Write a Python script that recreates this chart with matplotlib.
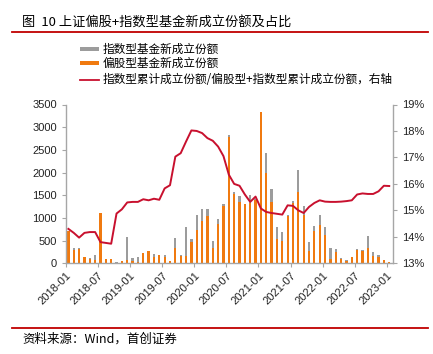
import numpy as np
import matplotlib
matplotlib.use('Agg')
import matplotlib.pyplot as plt
from matplotlib.patches import Rectangle
from matplotlib.lines import Line2D

plt.rcParams['font.family'] = ['Liberation Sans', 'Noto Sans CJK SC', 'DejaVu Sans']

# monthly data, 2018-01 .. 2023-01
tick_labels = ['2018-01', '2018-07', '2019-01', '2019-07', '2020-01', '2020-07',
               '2021-01', '2021-07', '2022-01', '2022-07', '2023-01']

# 偏股型基金新成立份额 (亿份)
equity = [720, 300, 326, 133, 104, 74, 1111, 96, 89, 10, 52, 74,
          52, 30, 222, 281, 148, 178, 133, 44, 348, 163, 170, 459,
          741, 941, 1037, 333, 870, 1259, 2778, 1518, 1350, 1300, 1325, 1400,
          3333, 2000, 1348, 533, 481, 1052, 1320, 1570, 1074, 281, 704, 837,
          615, 89, 259, 96, 59, 133, 296, 274, 333, 163, 148, 74,
          22]
# 指数型基金新成立份额 (亿份)
index_fund = [0, 33, 7, 7, 6, 111, 0, 4, 1, 20, 3, 504,
              74, 118, 8, 0, 52, 15, 60, 0, 208, 22, 623, 82,
              318, 259, 163, 163, 110, 52, 52, 44, 125, 11, 175, 20,
              7, 422, 300, 260, 208, 8, 50, 482, 185, 178, 111, 237,
              185, 259, 67, 15, 15, 15, 22, 22, 274, 81, 37, 0,
              0]
# 指数型累计成立份额/偏股型+指数型累计成立份额 (%)
ratio = [14.30, 14.15, 13.97, 14.15, 14.18, 14.18, 13.80, 13.77, 13.74, 14.88, 15.04, 15.30,
         15.32, 15.32, 15.42, 15.38, 15.44, 15.40, 15.83, 15.95, 17.03, 17.16, 17.60, 18.02,
         18.00, 17.92, 17.73, 17.63, 17.41, 17.05, 16.35, 16.00, 15.93, 15.60, 15.32, 15.52,
         15.07, 14.94, 14.90, 14.87, 14.84, 15.19, 15.17, 15.00, 14.90, 15.13, 15.28, 15.38,
         15.33, 15.32, 15.32, 15.33, 15.35, 15.38, 15.60, 15.64, 15.62, 15.62, 15.72, 15.93,
         15.92]

orange = '#F07A10'
gray = '#9C9C9C'
red = '#C8102E'
axis_gray = '#A6A6A6'
cjk = ['Noto Sans CJK SC', 'DejaVu Sans']

x = np.arange(len(equity)) + 0.45

fig = plt.figure(figsize=(4.33, 3.54), dpi=100)
ax = fig.add_axes([66 / 433, 1 - 263.3 / 354, (392.7 - 66) / 433, (263.3 - 104.5) / 354])
ax2 = ax.twinx()

ax.bar(x, equity, width=0.42, color=orange, linewidth=0)
ax.bar(x, index_fund, bottom=equity, width=0.42, color=gray, linewidth=0)
ax2.plot(x, ratio, color=red, linewidth=1.4)

ax.set_xlim(0, 61.1)
ax.set_ylim(0, 3500)
ax.set_yticks(range(0, 3501, 500))
ax2.set_ylim(13, 19)
ax2.set_yticks(range(13, 20))
ax2.set_yticklabels(['%d%%' % v for v in range(13, 20)])

ax.set_xticks(np.arange(0, 61, 6))
ax.set_xticklabels(tick_labels, rotation=45, ha='right', rotation_mode='anchor')

for a in (ax, ax2):
    a.spines['top'].set_visible(False)
    for s in ('left', 'right', 'bottom'):
        a.spines[s].set_color(axis_gray)
        a.spines[s].set_linewidth(1.0)
    a.tick_params(colors=axis_gray, labelcolor='#222222', labelsize=8, length=3)
ax.spines['right'].set_visible(False)
ax2.spines['left'].set_visible(False)
ax2.spines['bottom'].set_visible(False)
ax.tick_params(axis='x', pad=2)

# title
fig.text(22 / 433, 1 - 23 / 354, '图  10 上证偏股+指数型基金新成立份额及占比',
         fontsize=9.5, va='center', ha='left', family=cjk)
fig.add_artist(Line2D([12 / 433, 428 / 433], [1 - 31.5 / 354] * 2, color='#C00000', linewidth=1.3))

# legend
fig.add_artist(Rectangle((80 / 433, 1 - 51 / 354), 19 / 433, 4 / 354, color=gray, linewidth=0))
fig.add_artist(Rectangle((80 / 433, 1 - 65 / 354), 19 / 433, 4 / 354, color=orange, linewidth=0))
fig.add_artist(Line2D([80 / 433, 99 / 433], [1 - 79.5 / 354] * 2, color=red, linewidth=1.3))
legend_labels = ['指数型基金新成立份额', '偏股型基金新成立份额',
                 '指数型累计成立份额/偏股型+指数型累计成立份额，右轴']
for lab, yy in zip(legend_labels, [49, 63, 79.5]):
    fig.text(103 / 433, 1 - yy / 354, lab, fontsize=8.4, va='center', ha='left', family=cjk)

# footer
fig.add_artist(Line2D([12 / 433, 428 / 433], [1 - 328.3 / 354] * 2, color='#C00000', linewidth=1.3))
fig.text(22 / 433, 1 - 339 / 354, '资料来源：Wind，首创证券', fontsize=9, va='center', ha='left',
         style='italic', family=cjk)

fig.savefig('out.png', dpi=100)
